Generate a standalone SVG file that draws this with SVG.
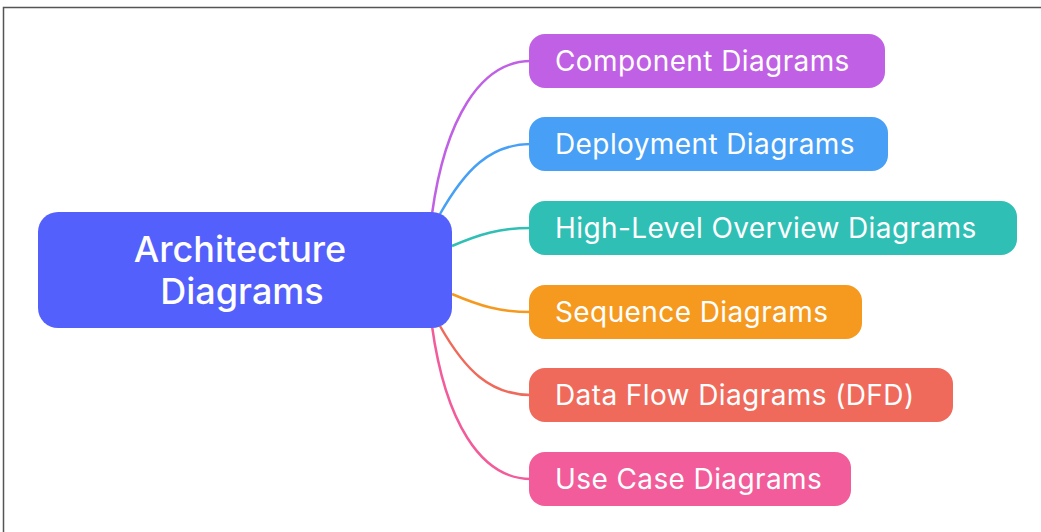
<svg xmlns="http://www.w3.org/2000/svg" width="1041" height="532" viewBox="0 0 1041 532">
<style>
.t{font-family:Inter,"Noto Sans",sans-serif;fill:#fff;}
.c{font-size:28px;letter-spacing:0.4px;}
.r{font-size:36px;font-weight:500;}
.e{fill:none;stroke-width:2.5;}
</style>
<rect width="1041" height="532" fill="#fff"/>
<path d="M3.5,532 V7.5 H1041" fill="none" stroke="#555" stroke-width="1.5"/>
<g id="connectors">
<path class="e" stroke="#C061E5" d="M432,214 C445,120 480,61 531,61"/>
<path class="e" stroke="#47A0F5" d="M440,214 C465,170 490,144 531,144"/>
<path class="e" stroke="#2FBFB5" d="M452,246 C480,234 500,228 531,228"/>
<path class="e" stroke="#F59A1F" d="M452,294 C480,306 500,312 531,312"/>
<path class="e" stroke="#F06A5B" d="M440,326 C465,370 490,395 531,395"/>
<path class="e" stroke="#F25C9A" d="M432,326 C445,420 480,479 531,479"/>
</g>
<g id="root">
<rect x="38" y="212" width="414" height="116" rx="20" fill="#5460FC"/>
<text class="t r" x="240" y="262" text-anchor="middle">Architecture</text>
<text class="t r" x="242" y="304" text-anchor="middle">Diagrams</text>
</g>
<g id="n1">
<rect x="529" y="34" width="356" height="54" rx="16" fill="#C061E5"/>
<text class="t c" x="555" y="71">Component Diagrams</text>
</g>
<g id="n2">
<rect x="529" y="117" width="359" height="54" rx="16" fill="#47A0F5"/>
<text class="t c" x="555" y="154">Deployment Diagrams</text>
</g>
<g id="n3">
<rect x="529" y="201" width="488" height="54" rx="16" fill="#2FBFB5"/>
<text class="t c" x="555" y="238">High-Level Overview Diagrams</text>
</g>
<g id="n4">
<rect x="529" y="285" width="333" height="54" rx="16" fill="#F59A1F"/>
<text class="t c" x="555" y="322">Sequence Diagrams</text>
</g>
<g id="n5">
<rect x="529" y="368" width="424" height="54" rx="16" fill="#F06A5B"/>
<text class="t c" x="555" y="405">Data Flow Diagrams (DFD)</text>
</g>
<g id="n6">
<rect x="529" y="452" width="322" height="54" rx="16" fill="#F25C9A"/>
<text class="t c" x="555" y="489">Use Case Diagrams</text>
</g>
</svg>
